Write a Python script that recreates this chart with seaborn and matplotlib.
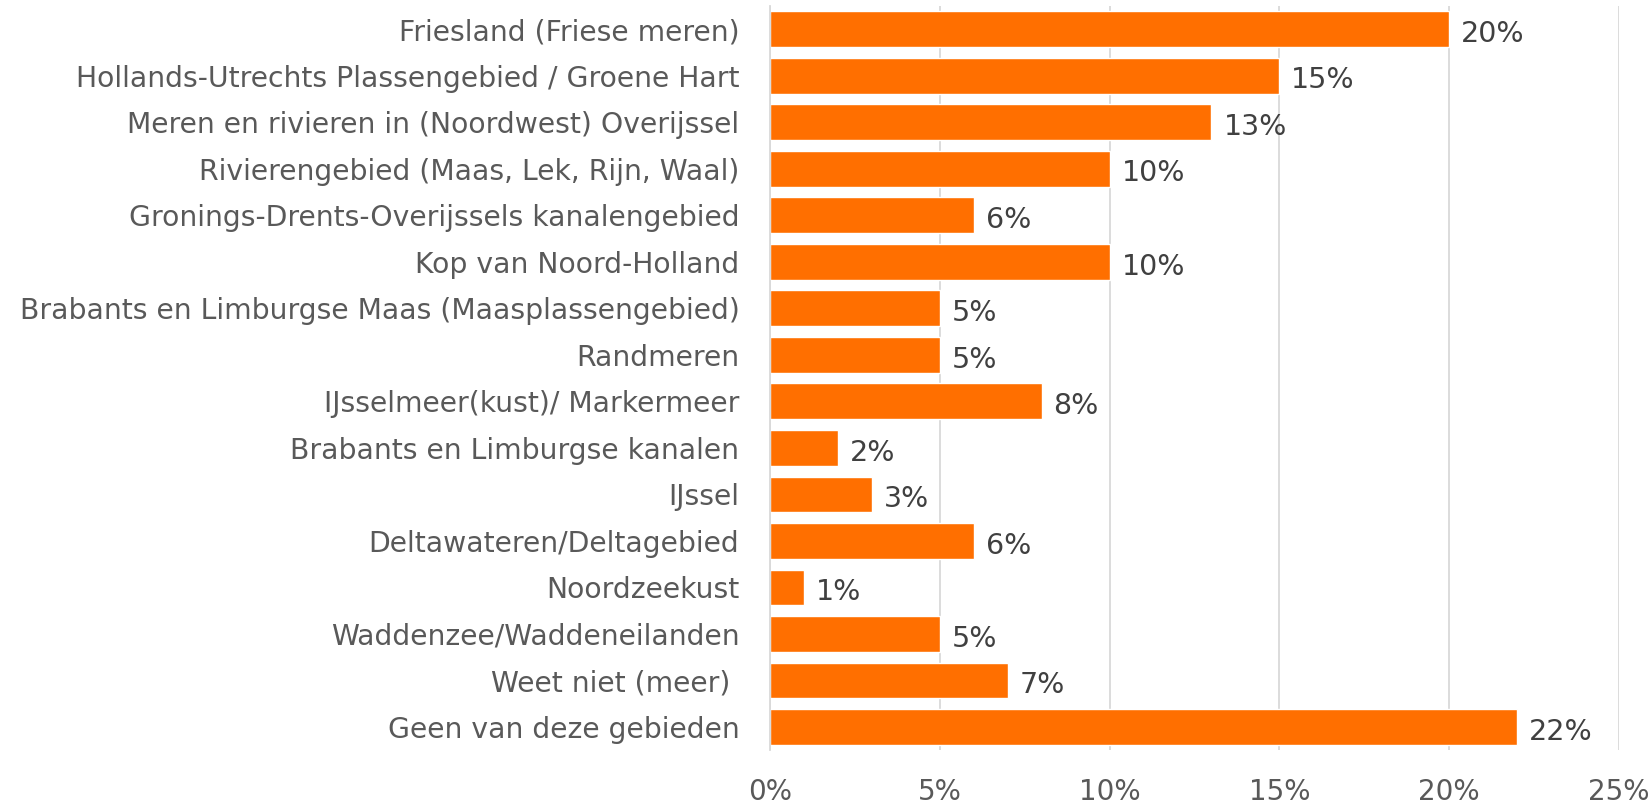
import matplotlib
matplotlib.use("Agg")
import matplotlib.pyplot as plt
import seaborn as sns
import pandas as pd
import numpy as np

categories = [
    "Friesland (Friese meren)",
    "Hollands-Utrechts Plassengebied / Groene Hart",
    "Meren en rivieren in (Noordwest) Overijssel",
    "Rivierengebied (Maas, Lek, Rijn, Waal)",
    "Gronings-Drents-Overijssels kanalengebied",
    "Kop van Noord-Holland",
    "Brabants en Limburgse Maas (Maasplassengebied)",
    "Randmeren",
    "IJsselmeer(kust)/ Markermeer",
    "Brabants en Limburgse kanalen",
    "IJssel",
    "Deltawateren/Deltagebied",
    "Noordzeekust",
    "Waddenzee/Waddeneilanden",
    "Weet niet (meer) ",
    "Geen van deze gebieden",
]
values = [20, 15, 13, 10, 6, 10, 5, 5, 8, 2, 3, 6, 1, 5, 7, 22]
x_ticks = [0, 5, 10, 15, 20, 25]
x_ticklabels = ["0%", "5%", "10%", "15%", "20%", "25%"]

df = pd.DataFrame({"cat": categories, "val": values})

sns.set_theme(style="white")
plt.rcParams["font.family"] = ["DejaVu Sans"]

fig = plt.figure(figsize=(16.5, 8.05), dpi=100)
ax = fig.add_axes([0.4667, 0.068, 0.5145, 0.9245])

sns.barplot(data=df, y="cat", x="val", color="#FF6F00", saturation=1,
            width=0.77, ax=ax, orient="h")

ax.set_xlim(0, 25)
ax.set_ylim(len(categories) - 0.5, -0.5)
ax.set_xticks(x_ticks)
ax.set_xticklabels(x_ticklabels)
ax.set_xlabel("")
ax.set_ylabel("")
ax.grid(axis="x", color="#D9D9D9", linewidth=1.3)
ax.set_axisbelow(True)
for s in ["top", "right", "bottom"]:
    ax.spines[s].set_visible(False)
ax.spines["left"].set_color("#D9D9D9")
ax.spines["left"].set_linewidth(1.3)

ax.tick_params(axis="y", length=0, pad=22, labelsize=20.3, labelcolor="#595959")
ax.tick_params(axis="x", length=0, pad=20, labelsize=20, labelcolor="#595959")
ax.set_yticks(np.arange(-0.5, len(categories) + 0.5, 1), minor=True)
ax.tick_params(axis="y", which="minor", length=7, color="#D9D9D9", width=1.3)

for i, v in enumerate(values):
    ax.text(v + 0.35, i + 0.1, f"{v}%", va="center", ha="left",
            fontsize=20.5, color="#404040")

fig.savefig("out.png", dpi=100)
